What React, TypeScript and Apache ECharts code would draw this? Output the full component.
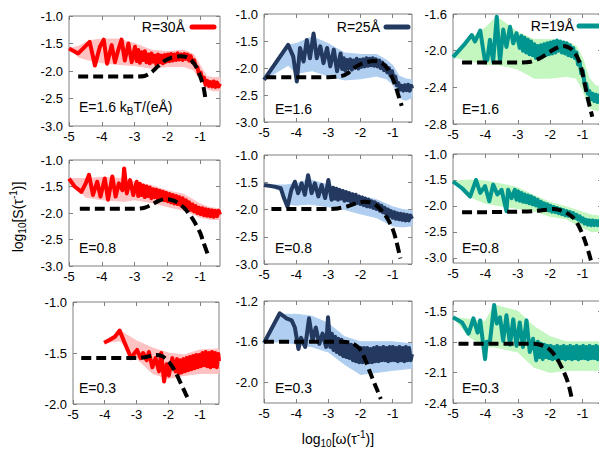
import React, { useEffect, useRef } from "react";
import * as echarts from "echarts";

// ---------- tick labels ----------
const X_TICKS = [-5, -4, -3, -2, -1];
const Y_TICKS_STD = [-3, -2.5, -2, -1.5, -1];
const Y_TICKS_C = [-2.8, -2.4, -2.0, -1.6];
const Y_TICKS_G = [-2, -1.5, -1];
const Y_TICKS_H = [-2.0, -1.6, -1.2];
const Y_TICKS_I = [-2.4, -2.1, -1.8, -1.5];

const RADII = ["R=30Å", "R=25Å", "R=19Å"];
const FIELDS = ["E=1.6", "E=0.8", "E=0.3"];

// ---------- data: R=30Å, E=1.6 ----------
const LINE_30_16 = [[-5,-1.59],[-4.72,-1.68],[-4.52,-1.56],[-4.37,-1.47],[-4.21,-1.9],[-4.06,-1.56],[-3.94,-1.43],[-3.84,-1.87],[-3.7,-1.53],[-3.6,-1.84],[-3.5,-1.62],[-3.4,-1.43],[-3.3,-1.81],[-3.19,-1.5],[-3.09,-1.84],[-2.99,-1.56],
[-2.94,-1.82],[-2.89,-1.62],[-2.84,-1.85],[-2.79,-1.66],[-2.74,-1.8],[-2.69,-1.64],[-2.64,-1.84],[-2.59,-1.7],[-2.54,-1.86],[-2.49,-1.68],[-2.44,-1.83],[-2.39,-1.72],[-2.34,-1.88],[-2.29,-1.7],[-2.24,-1.84],[-2.19,-1.72],[-2.14,-1.86],[-2.09,-1.71],[-2.04,-1.83],[-1.99,-1.7],[-1.94,-1.82],[-1.89,-1.69],[-1.84,-1.81],[-1.79,-1.7],[-1.74,-1.8],[-1.69,-1.68],[-1.64,-1.79],[-1.59,-1.7],[-1.54,-1.8],[-1.49,-1.69],[-1.44,-1.78],[-1.39,-1.7],[-1.34,-1.81],[-1.29,-1.73],[-1.24,-1.84],[-1.19,-1.8],[-1.14,-1.92],[-1.09,-1.93],[-1.04,-2.06],[-0.99,-2.03],[-0.94,-2.16],[-0.89,-2.12],[-0.84,-2.25],[-0.79,-2.18],[-0.74,-2.27],[-0.69,-2.2],[-0.64,-2.28],[-0.59,-2.19],[-0.54,-2.29],[-0.49,-2.21],[-0.44,-2.28],[-0.4,-2.23]];
const BAND_30_16 = [[-5,-1.59,-1.59],[-4.7,-1.75,-1.55],[-4.4,-1.8,-1.45],[-4.0,-1.85,-1.42],[-3.5,-1.88,-1.42],[-3.0,-1.9,-1.5],[-2.5,-1.95,-1.62],[-2.0,-1.92,-1.65],[-1.5,-1.92,-1.62],[-1.2,-1.98,-1.7],[-1.0,-2.15,-1.9],[-0.8,-2.32,-2.1],[-0.6,-2.36,-2.12],[-0.4,-2.36,-2.12]];
const DASH_30_16 = [[-4.72,-2.1],[-4.0,-2.1],[-3.0,-2.1],[-2.7,-2.09],[-2.5,-2.03],[-2.3,-1.92],[-2.1,-1.82],[-1.9,-1.76],[-1.6,-1.73],[-1.4,-1.75],[-1.25,-1.82],[-1.1,-1.95],[-1.0,-2.1],[-0.9,-2.3],[-0.84,-2.52]];

// ---------- data: R=25Å, E=1.6 ----------
const LINE_25_16 = [[-5,-2.22],[-4.25,-1.57],[-4.09,-1.79],[-3.98,-2.25],[-3.88,-1.63],[-3.77,-1.88],[-3.67,-1.48],[-3.57,-1.82],[-3.46,-1.36],[-3.36,-1.82],[-3.25,-1.6],[-3.15,-1.91],[-3.04,-1.63],[-2.94,-1.97],[-2.83,-1.66],[-2.73,-2.06],[-2.62,-1.73],
[-2.57,-2.02],[-2.52,-1.82],[-2.47,-2.05],[-2.42,-1.85],[-2.37,-2.0],[-2.32,-1.84],[-2.27,-2.03],[-2.22,-1.86],[-2.17,-1.99],[-2.12,-1.83],[-2.07,-2.01],[-2.02,-1.85],[-1.97,-1.98],[-1.92,-1.84],[-1.87,-1.97],[-1.82,-1.82],[-1.77,-1.96],[-1.72,-1.83],[-1.67,-1.95],[-1.62,-1.82],[-1.57,-1.96],[-1.52,-1.84],[-1.47,-1.97],[-1.42,-1.86],[-1.37,-2.0],[-1.32,-1.9],[-1.27,-2.04],[-1.22,-1.95],[-1.17,-2.08],[-1.12,-2.0],[-1.07,-2.14],[-1.02,-2.06],[-0.97,-2.2],[-0.92,-2.16],[-0.87,-2.32],[-0.82,-2.28],[-0.77,-2.4],[-0.72,-2.33],[-0.67,-2.42],[-0.62,-2.32],[-0.57,-2.41],[-0.52,-2.31],[-0.47,-2.42],[-0.42,-2.33],[-0.4,-2.38]];
const BAND_25_16 = [[-5,-2.22,-2.22],[-4.25,-1.95,-1.57],[-4.0,-2.1,-1.55],[-3.5,-2.05,-1.42],[-3.0,-2.15,-1.55],[-2.5,-2.22,-1.72],[-2.0,-2.2,-1.75],[-1.5,-2.15,-1.75],[-1.2,-2.2,-1.85],[-1.0,-2.3,-1.95],[-0.8,-2.55,-2.15],[-0.6,-2.6,-2.2],[-0.4,-2.55,-2.22]];
const DASH_25_16 = [[-4.93,-2.17],[-4.0,-2.17],[-3.0,-2.17],[-2.6,-2.15],[-2.4,-2.1],[-2.2,-2.0],[-2.0,-1.93],[-1.8,-1.89],[-1.6,-1.87],[-1.4,-1.89],[-1.25,-1.95],[-1.1,-2.07],[-1.0,-2.2],[-0.9,-2.36],[-0.8,-2.55],[-0.72,-2.7]];

// ---------- data: R=19Å, E=1.6 ----------
const LINE_19_16 = [[-5,-2.07],[-4.62,-1.92],[-4.42,-1.83],[-4.32,-1.9],[-4.16,-1.78],[-4.01,-2.12],[-3.94,-2.1],[-3.86,-1.88],[-3.76,-2.12],[-3.65,-1.63],[-3.55,-2.12],[-3.45,-1.77],[-3.35,-1.96],[-3.24,-1.74],[-3.14,-1.92],[-3.04,-1.81],[-2.94,-1.97],
[-2.89,-1.84],[-2.84,-2.0],[-2.79,-1.86],[-2.74,-2.02],[-2.69,-1.88],[-2.64,-2.04],[-2.59,-1.9],[-2.54,-2.05],[-2.49,-1.93],[-2.44,-2.08],[-2.39,-1.95],[-2.34,-2.07],[-2.29,-1.94],[-2.24,-2.06],[-2.19,-1.93],[-2.14,-2.05],[-2.09,-1.92],[-2.04,-2.04],[-1.99,-1.91],[-1.94,-2.03],[-1.89,-1.9],[-1.84,-2.02],[-1.79,-1.89],[-1.74,-2.0],[-1.69,-1.9],[-1.64,-2.02],[-1.59,-1.91],[-1.54,-2.03],[-1.49,-1.92],[-1.44,-2.05],[-1.39,-1.94],[-1.34,-2.06],[-1.29,-1.97],[-1.24,-2.08],[-1.19,-2.02],[-1.14,-2.15],[-1.09,-2.12],[-1.04,-2.25],[-0.99,-2.22],[-0.94,-2.36],[-0.89,-2.36],[-0.84,-2.47],[-0.79,-2.44],[-0.74,-2.53],[-0.69,-2.47],[-0.64,-2.55],[-0.59,-2.48],[-0.54,-2.56],[-0.49,-2.49],[-0.44,-2.55],[-0.4,-2.51]];
const BAND_19_16 = [[-5,-2.07,-2.07],[-4.6,-2.1,-1.9],[-4.0,-2.15,-1.75],[-3.65,-2.15,-1.63],[-3.0,-2.2,-1.8],[-2.5,-2.3,-1.88],[-2.0,-2.3,-1.88],[-1.5,-2.28,-1.9],[-1.2,-2.3,-1.95],[-1.0,-2.42,-2.08],[-0.8,-2.62,-2.3],[-0.6,-2.65,-2.38],[-0.4,-2.65,-2.4]];
const DASH_19_16 = [[-4.72,-2.13],[-4.0,-2.13],[-3.0,-2.13],[-2.6,-2.12],[-2.3,-2.08],[-2.0,-2.01],[-1.8,-1.97],[-1.6,-1.95],[-1.4,-1.97],[-1.25,-2.02],[-1.1,-2.12],[-1.0,-2.25],[-0.9,-2.42],[-0.8,-2.58],[-0.7,-2.72]];

// ---------- data: R=30Å, E=0.8 ----------
const LINE_30_08 = [[-5,-1.35],[-4.83,-1.5],[-4.62,-1.6],[-4.49,-1.44],[-4.39,-1.28],[-4.27,-1.66],[-4.14,-1.41],[-4.04,-1.69],[-3.91,-1.35],[-3.81,-1.75],[-3.68,-1.31],[-3.58,-1.69],[-3.48,-1.44],[-3.37,-1.57],[-3.32,-1.16],[-3.24,-1.63],[-3.14,-1.38],[-3.04,-1.66],[-2.94,-1.41],
[-2.89,-1.68],[-2.84,-1.45],[-2.79,-1.66],[-2.74,-1.48],[-2.69,-1.7],[-2.64,-1.5],[-2.59,-1.68],[-2.54,-1.52],[-2.49,-1.72],[-2.44,-1.55],[-2.39,-1.7],[-2.34,-1.56],[-2.29,-1.74],[-2.24,-1.58],[-2.19,-1.72],[-2.14,-1.6],[-2.09,-1.76],[-2.04,-1.62],[-1.99,-1.78],[-1.94,-1.64],[-1.89,-1.8],[-1.84,-1.66],[-1.79,-1.82],[-1.74,-1.68],[-1.69,-1.83],[-1.64,-1.7],[-1.59,-1.85],[-1.54,-1.72],[-1.49,-1.87],[-1.44,-1.76],[-1.39,-1.9],[-1.34,-1.8],[-1.29,-1.94],[-1.24,-1.84],[-1.19,-1.97],[-1.14,-1.87],[-1.09,-2.0],[-1.04,-1.9],[-0.99,-2.02],[-0.94,-1.91],[-0.89,-2.04],[-0.84,-1.93],[-0.79,-2.05],[-0.74,-1.94],[-0.69,-2.06],[-0.64,-1.95],[-0.59,-2.07],[-0.54,-1.96],[-0.49,-2.06],[-0.44,-1.96],[-0.4,-2.03]];
const BAND_30_08 = [[-5,-1.35,-1.35],[-4.5,-1.7,-1.35],[-4.0,-1.75,-1.33],[-3.3,-1.78,-1.35],[-3.0,-1.75,-1.42],[-2.5,-1.8,-1.48],[-2.0,-1.88,-1.58],[-1.5,-1.95,-1.65],[-1.0,-2.08,-1.83],[-0.7,-2.12,-1.9],[-0.4,-2.12,-1.92]];
const DASH_30_08 = [[-4.67,-1.92],[-4.0,-1.92],[-3.0,-1.92],[-2.7,-1.9],[-2.5,-1.85],[-2.3,-1.78],[-2.1,-1.74],[-1.9,-1.75],[-1.7,-1.8],[-1.5,-1.9],[-1.3,-2.05],[-1.15,-2.2],[-1.0,-2.38],[-0.9,-2.56],[-0.75,-2.82]];

// ---------- data: R=25Å, E=0.8 ----------
const LINE_25_08 = [[-5,-1.55],[-4.67,-1.58],[-4.48,-1.61],[-4.38,-1.79],[-4.27,-1.95],[-4.15,-1.64],[-4.04,-1.49],[-3.94,-1.7],[-3.83,-1.52],[-3.73,-1.73],[-3.63,-1.37],[-3.52,-1.7],[-3.42,-1.52],[-3.31,-1.76],[-3.21,-1.55],[-3.1,-1.79],[-3.0,-1.46],[-2.9,-1.82],
[-2.85,-1.6],[-2.8,-1.8],[-2.75,-1.62],[-2.7,-1.82],[-2.65,-1.64],[-2.6,-1.8],[-2.55,-1.66],[-2.5,-1.84],[-2.45,-1.68],[-2.4,-1.83],[-2.35,-1.7],[-2.3,-1.86],[-2.25,-1.72],[-2.2,-1.87],[-2.15,-1.73],[-2.1,-1.88],[-2.05,-1.76],[-2.0,-1.9],[-1.95,-1.78],[-1.9,-1.92],[-1.85,-1.8],[-1.8,-1.94],[-1.75,-1.82],[-1.7,-1.95],[-1.65,-1.85],[-1.6,-1.97],[-1.55,-1.87],[-1.5,-1.99],[-1.45,-1.9],[-1.4,-2.02],[-1.35,-1.93],[-1.3,-2.05],[-1.25,-1.97],[-1.2,-2.08],[-1.15,-2.0],[-1.1,-2.12],[-1.05,-2.03],[-1.0,-2.15],[-0.95,-2.05],[-0.9,-2.17],[-0.85,-2.07],[-0.8,-2.18],[-0.75,-2.08],[-0.7,-2.19],[-0.65,-2.09],[-0.6,-2.2],[-0.55,-2.1],[-0.5,-2.2],[-0.45,-2.11],[-0.4,-2.17]];
const BAND_25_08 = [[-5,-1.55,-1.55],[-4.5,-1.65,-1.55],[-4.3,-1.9,-1.55],[-4.0,-1.92,-1.52],[-3.6,-1.9,-1.45],[-3.0,-1.95,-1.55],[-2.5,-2.0,-1.65],[-2.0,-2.08,-1.75],[-1.5,-2.15,-1.82],[-1.0,-2.3,-1.95],[-0.7,-2.32,-2.0],[-0.4,-2.3,-2.02]];
const DASH_25_08 = [[-4.77,-1.99],[-4.0,-1.99],[-3.0,-1.99],[-2.7,-1.98],[-2.4,-1.94],[-2.1,-1.88],[-1.9,-1.86],[-1.7,-1.87],[-1.5,-1.93],[-1.3,-2.05],[-1.15,-2.18],[-1.0,-2.36],[-0.9,-2.55],[-0.76,-2.9]];

// ---------- data: R=19Å, E=0.8 ----------
const LINE_19_08 = [[-5,-1.53],[-4.72,-1.66],[-4.47,-1.82],[-4.29,-1.5],[-4.16,-1.75],[-4.01,-1.62],[-3.88,-1.91],[-3.76,-1.59],[-3.63,-1.78],[-3.5,-1.69],[-3.35,-2.1],[-3.3,-1.69],[-3.19,-1.85],[-3.09,-1.69],
[-3.04,-1.88],[-2.99,-1.72],[-2.94,-1.9],[-2.89,-1.75],[-2.84,-1.92],[-2.79,-1.78],[-2.74,-1.93],[-2.69,-1.8],[-2.64,-1.95],[-2.59,-1.82],[-2.54,-1.97],[-2.49,-1.85],[-2.44,-1.99],[-2.39,-1.88],[-2.34,-2.02],[-2.29,-1.92],[-2.24,-2.05],[-2.19,-1.95],[-2.14,-2.07],[-2.09,-1.97],[-2.04,-2.09],[-1.99,-2.0],[-1.94,-2.11],[-1.89,-2.02],[-1.84,-2.12],[-1.79,-2.04],[-1.74,-2.14],[-1.69,-2.06],[-1.64,-2.16],[-1.59,-2.08],[-1.54,-2.18],[-1.49,-2.1],[-1.44,-2.19],[-1.39,-2.12],[-1.34,-2.21],[-1.29,-2.14],[-1.24,-2.23],[-1.19,-2.17],[-1.14,-2.26],[-1.09,-2.2],[-1.04,-2.3],[-0.99,-2.24],[-0.94,-2.34],[-0.89,-2.27],[-0.84,-2.36],[-0.79,-2.28],[-0.74,-2.37],[-0.69,-2.28],[-0.64,-2.37],[-0.59,-2.29],[-0.54,-2.37],[-0.49,-2.29],[-0.44,-2.36],[-0.4,-2.31]];
const BAND_19_08 = [[-5,-1.53,-1.53],[-4.5,-1.82,-1.5],[-4.0,-1.95,-1.52],[-3.5,-2.0,-1.58],[-3.0,-2.05,-1.65],[-2.5,-2.1,-1.8],[-2.0,-2.2,-1.93],[-1.5,-2.25,-2.02],[-1.0,-2.42,-2.12],[-0.7,-2.5,-2.18],[-0.4,-2.48,-2.2]];
const DASH_19_08 = [[-4.72,-2.12],[-4.0,-2.12],[-3.0,-2.11],[-2.5,-2.1],[-2.2,-2.08],[-1.9,-2.06],[-1.7,-2.08],[-1.5,-2.13],[-1.3,-2.22],[-1.15,-2.35],[-1.0,-2.55],[-0.9,-2.72],[-0.8,-2.92],[-0.7,-3.15]];

// ---------- data: R=30Å, E=0.3 ----------
const LINE_30_03 = [[-4.02,-1.4],[-3.84,-1.37],[-3.68,-1.34],[-3.53,-1.28],[-3.4,-1.38],[-3.29,-1.46],[-3.17,-1.55],[-3.08,-1.51],[-2.98,-1.47],[-2.87,-1.55],[-2.79,-1.5],[-2.68,-1.57],[-2.61,-1.49],[-2.5,-1.64],[-2.4,-1.55],[-2.29,-1.68],[-2.22,-1.5],[-2.13,-1.78],[-2.05,-1.61],[-1.98,-1.72],[-1.87,-1.55],[-1.77,-1.68],
[-1.72,-1.56],[-1.67,-1.7],[-1.62,-1.57],[-1.57,-1.69],[-1.52,-1.56],[-1.47,-1.68],[-1.42,-1.55],[-1.37,-1.67],[-1.32,-1.54],[-1.27,-1.66],[-1.22,-1.53],[-1.17,-1.65],[-1.12,-1.52],[-1.07,-1.64],[-1.02,-1.52],[-0.97,-1.63],[-0.92,-1.5],[-0.87,-1.62],[-0.82,-1.49],[-0.77,-1.63],[-0.72,-1.5],[-0.67,-1.64],[-0.62,-1.49],[-0.57,-1.63],[-0.52,-1.5],[-0.47,-1.64],[-0.42,-1.51],[-0.4,-1.58]];
const BAND_30_03 = [[-4.0,-1.4,-1.4],[-3.53,-1.38,-1.28],[-3.0,-1.55,-1.38],[-2.5,-1.7,-1.45],[-2.0,-1.75,-1.5],[-1.5,-1.72,-1.52],[-1.0,-1.7,-1.47],[-0.4,-1.7,-1.46]];
const DASH_30_03 = [[-4.74,-1.55],[-4.0,-1.55],[-3.0,-1.55],[-2.7,-1.54],[-2.4,-1.52],[-2.2,-1.53],[-2.0,-1.58],[-1.8,-1.67],[-1.6,-1.8],[-1.45,-1.9],[-1.34,-1.97]];

// ---------- data: R=25Å, E=0.3 ----------
const LINE_25_03 = [[-5,-1.61],[-4.51,-1.32],[-4.3,-1.37],[-4.14,-1.39],[-4.04,-1.46],[-3.93,-1.67],[-3.85,-1.56],[-3.72,-1.65],[-3.6,-1.37],[-3.49,-1.59],[-3.39,-1.46],[-3.28,-1.62],[-3.18,-1.52],[-3.07,-1.65],[-3.01,-1.36],[-2.94,-1.65],
[-2.89,-1.52],[-2.84,-1.68],[-2.79,-1.55],[-2.74,-1.7],[-2.69,-1.57],[-2.64,-1.72],[-2.59,-1.58],[-2.54,-1.74],[-2.49,-1.6],[-2.44,-1.75],[-2.39,-1.62],[-2.34,-1.76],[-2.29,-1.63],[-2.24,-1.78],[-2.19,-1.64],[-2.14,-1.79],[-2.09,-1.65],[-2.04,-1.8],[-1.99,-1.66],[-1.94,-1.8],[-1.89,-1.66],[-1.84,-1.79],[-1.79,-1.66],[-1.74,-1.8],[-1.69,-1.67],[-1.64,-1.8],[-1.59,-1.66],[-1.54,-1.79],[-1.49,-1.65],[-1.44,-1.79],[-1.39,-1.66],[-1.34,-1.78],[-1.29,-1.65],[-1.24,-1.78],[-1.19,-1.66],[-1.14,-1.79],[-1.09,-1.65],[-1.04,-1.78],[-0.99,-1.65],[-0.94,-1.78],[-0.89,-1.66],[-0.84,-1.79],[-0.79,-1.65],[-0.74,-1.78],[-0.69,-1.66],[-0.64,-1.79],[-0.59,-1.65],[-0.54,-1.78],[-0.49,-1.66],[-0.44,-1.78],[-0.4,-1.72]];
const BAND_25_03 = [[-5,-1.61,-1.61],[-4.51,-1.6,-1.33],[-4.0,-1.62,-1.33],[-3.5,-1.65,-1.35],[-3.0,-1.7,-1.42],[-2.5,-1.82,-1.55],[-2.0,-1.92,-1.6],[-1.5,-1.9,-1.6],[-1.0,-1.88,-1.6],[-0.4,-1.86,-1.62]];
const DASH_25_03 = [[-5,-1.6],[-4.0,-1.6],[-3.0,-1.6],[-2.6,-1.6],[-2.3,-1.61],[-2.05,-1.66],[-1.9,-1.74],[-1.73,-1.88],[-1.55,-2.02],[-1.37,-2.16]];

// ---------- data: R=19Å, E=0.3 ----------
const LINE_19_03 = [[-5,-1.56],[-4.72,-1.61],[-4.52,-1.72],[-4.37,-1.57],[-4.24,-1.71],[-4.16,-1.59],[-4.01,-1.97],[-3.96,-1.8],[-3.86,-1.8],[-3.73,-1.44],[-3.65,-1.62],[-3.55,-1.56],[-3.45,-1.79],[-3.35,-1.54],[-3.24,-1.83],[-3.14,-1.58],[-3.04,-1.84],[-2.94,-1.61],[-2.84,-1.85],[-2.73,-1.59],[-2.63,-1.9],[-2.53,-1.77],[-2.43,-1.98],
[-2.38,-1.8],[-2.33,-1.95],[-2.28,-1.82],[-2.23,-1.97],[-2.18,-1.83],[-2.13,-1.95],[-2.08,-1.84],[-2.03,-1.96],[-1.98,-1.84],[-1.93,-1.97],[-1.88,-1.85],[-1.83,-1.96],[-1.78,-1.84],[-1.73,-1.97],[-1.68,-1.85],[-1.63,-1.96],[-1.58,-1.84],[-1.53,-1.97],[-1.48,-1.85],[-1.43,-1.96],[-1.38,-1.84],[-1.33,-1.97],[-1.28,-1.85],[-1.23,-1.96],[-1.18,-1.84],[-1.13,-1.97],[-1.08,-1.85],[-1.03,-1.96],[-0.98,-1.84],[-0.93,-1.96],[-0.88,-1.85],[-0.83,-1.97],[-0.78,-1.84],[-0.73,-1.96],[-0.68,-1.85],[-0.63,-1.96],[-0.58,-1.84],[-0.53,-1.97],[-0.48,-1.85],[-0.43,-1.95],[-0.4,-1.9]];
const BAND_19_03 = [[-5,-1.56,-1.56],[-4.5,-1.75,-1.58],[-4.0,-1.85,-1.6],[-3.73,-1.85,-1.44],[-3.0,-1.9,-1.5],[-2.5,-2.05,-1.65],[-2.0,-2.1,-1.75],[-1.5,-2.08,-1.8],[-1.0,-2.08,-1.8],[-0.4,-2.08,-1.8]];
const DASH_19_03 = [[-4.83,-1.82],[-4.0,-1.82],[-3.0,-1.82],[-2.5,-1.82],[-2.2,-1.84],[-2.0,-1.88],[-1.8,-1.96],[-1.6,-2.08],[-1.45,-2.2],[-1.33,-2.36]];

// ---------- styling ----------
const LINE_COLORS = ["#ff0000", "#23395f", "#00968f"];
const BAND_COLORS = ["#ffc2c2", "#b0cff0", "#c4f6c0"];
const FONT = "'Liberation Sans', Arial, Helvetica, sans-serif";
const FRAME = "#808080";

const PANELS = [
  { col: 0, row: 0, line: LINE_30_16, band: BAND_30_16, dash: DASH_30_16, yMin: -3, yMax: -1, yTicks: Y_TICKS_STD, box: { left: 69, top: 16, width: 151, height: 110 } },
  { col: 1, row: 0, line: LINE_25_16, band: BAND_25_16, dash: DASH_25_16, yMin: -3, yMax: -1, yTicks: Y_TICKS_STD, box: { left: 264, top: 14, width: 148, height: 108 } },
  { col: 2, row: 0, line: LINE_19_16, band: BAND_19_16, dash: DASH_19_16, yMin: -2.8, yMax: -1.6, yTicks: Y_TICKS_C, box: { left: 453, top: 14, width: 149, height: 110 } },
  { col: 0, row: 1, line: LINE_30_08, band: BAND_30_08, dash: DASH_30_08, yMin: -3, yMax: -1, yTicks: Y_TICKS_STD, box: { left: 69, top: 160, width: 151, height: 106 } },
  { col: 1, row: 1, line: LINE_25_08, band: BAND_25_08, dash: DASH_25_08, yMin: -3, yMax: -1, yTicks: Y_TICKS_STD, box: { left: 264, top: 155, width: 148, height: 109 } },
  { col: 2, row: 1, line: LINE_19_08, band: BAND_19_08, dash: DASH_19_08, yMin: -3.1, yMax: -1, yTicks: Y_TICKS_STD, box: { left: 453, top: 154, width: 149, height: 109 } },
  { col: 0, row: 2, line: LINE_30_03, band: BAND_30_03, dash: DASH_30_03, yMin: -2, yMax: -1, yTicks: Y_TICKS_G, box: { left: 73, top: 302, width: 146, height: 102 } },
  { col: 1, row: 2, line: LINE_25_03, band: BAND_25_03, dash: DASH_25_03, yMin: -2.2, yMax: -1.2, yTicks: Y_TICKS_H, box: { left: 264, top: 301, width: 148, height: 102 } },
  { col: 2, row: 2, line: LINE_19_03, band: BAND_19_03, dash: DASH_19_03, yMin: -2.4, yMax: -1.4, yTicks: Y_TICKS_I, box: { left: 453, top: 301, width: 149, height: 102 } },
];

const E_POS = [
  [79, 107], [275, 109], [462, 109],
  [79, 248], [275, 248], [462, 248],
  [79, 388], [275, 388], [462, 388],
];
const LEGEND_POS = [
  { tx: 185, y: 27, x1: 192, x2: 214 },
  { tx: 380, y: 27, x1: 386, x2: 408 },
  { tx: 574, y: 26, x1: 579, x2: 602 },
];

let ctx: CanvasRenderingContext2D | null = null;
function measure(text: string, size: number) {
  if (!ctx) ctx = document.createElement("canvas").getContext("2d");
  if (!ctx) return text.length * size * 0.55;
  ctx.font = `${size}px ${FONT}`;
  return ctx.measureText(text).width;
}

type Piece = { t: string; s: number; dy?: number };
function seqTexts(pieces: Piece[], x0: number, y: number, center: boolean) {
  const widths = pieces.map((p) => measure(p.t, p.s));
  const total = widths.reduce((a, b) => a + b, 0);
  let x = center ? x0 - total / 2 : x0;
  return pieces.map((p, i) => {
    const el = {
      type: "text",
      x,
      y: y + (p.dy || 0),
      silent: true,
      style: { text: p.t, fontSize: p.s, fontFamily: FONT, fill: "#000", align: "left", verticalAlign: "middle" },
    };
    x += widths[i];
    return el;
  });
}

function buildOption() {
  const grid: any[] = [];
  const xAxis: any[] = [];
  const yAxis: any[] = [];
  const series: any[] = [];
  const tickStyle = { inside: true, length: 4, lineStyle: { color: FRAME, width: 1 } };

  PANELS.forEach((p, i) => {
    grid.push({ ...p.box, show: true, borderColor: FRAME, borderWidth: 1, backgroundColor: "transparent", containLabel: false, outerBoundsMode: "none" });
    xAxis.push({
      gridIndex: i, type: "value", min: -5, max: -0.4, position: "bottom",
      axisLine: { show: false }, splitLine: { show: false },
      axisTick: { ...tickStyle, customValues: X_TICKS },
      axisLabel: { customValues: X_TICKS, color: "#000", fontSize: 13, fontFamily: FONT, margin: 4, formatter: (v: number) => String(Math.round(v)) },
    });
    xAxis.push({
      gridIndex: i, type: "value", min: -5, max: -0.4, position: "top",
      axisLine: { show: false }, splitLine: { show: false },
      axisTick: { ...tickStyle, customValues: X_TICKS }, axisLabel: { show: false },
    });
    yAxis.push({
      gridIndex: i, type: "value", min: p.yMin, max: p.yMax, position: "left",
      axisLine: { show: false }, splitLine: { show: false },
      axisTick: { ...tickStyle, customValues: p.yTicks },
      axisLabel: { customValues: p.yTicks, color: "#000", fontSize: 13, fontFamily: FONT, margin: 6, formatter: (v: number) => v.toFixed(1) },
    });
    yAxis.push({
      gridIndex: i, type: "value", min: p.yMin, max: p.yMax, position: "right",
      axisLine: { show: false }, splitLine: { show: false },
      axisTick: { ...tickStyle, customValues: p.yTicks }, axisLabel: { show: false },
    });
    const xi = 2 * i, yi = 2 * i;
    const band = p.band;
    const fill = BAND_COLORS[p.col];
    series.push({
      type: "custom", xAxisIndex: xi, yAxisIndex: yi, data: band, z: 1, silent: true,
      encode: { x: 0, y: [1, 2] },
      renderItem: (params: any, api: any) => {
        if (params.dataIndex !== 0) return null;
        const upper = band.map((d) => api.coord([d[0], d[2]]));
        const lower = band.map((d) => api.coord([d[0], d[1]])).reverse();
        return { type: "polygon", shape: { points: upper.concat(lower) }, style: { fill, stroke: fill, lineWidth: 1 } };
      },
    });
    series.push({
      type: "line", xAxisIndex: xi, yAxisIndex: yi, data: p.line, z: 2, symbol: "none", silent: true,
      lineStyle: { color: LINE_COLORS[p.col], width: 4, join: "round" }, clip: true,
    });
    series.push({
      type: "line", xAxisIndex: xi, yAxisIndex: yi, data: p.dash, z: 3, symbol: "none", smooth: 0.3, silent: true,
      lineStyle: { color: "#000", width: 4, type: [10, 5], cap: "butt" }, clip: true,
    });
  });

  const graphic: any[] = [];
  // legends (top row)
  LEGEND_POS.forEach((l, c) => {
    graphic.push({ type: "text", x: l.tx, y: l.y, silent: true, style: { text: RADII[c], fontSize: 14, fontFamily: FONT, fill: "#000", align: "right", verticalAlign: "middle" } });
    graphic.push({ type: "line", silent: true, shape: { x1: l.x1, y1: l.y, x2: l.x2, y2: l.y }, style: { stroke: LINE_COLORS[c], lineWidth: 5, lineCap: "round" } });
  });
  // field labels
  PANELS.forEach((p, i) => {
    const [ex, ey] = E_POS[i];
    if (i === 0) {
      graphic.push(...seqTexts([{ t: FIELDS[0] + " k", s: 14 }, { t: "B", s: 10, dy: 4 }, { t: "T/(eÅ)", s: 14 }], ex, ey, false));
    } else {
      graphic.push({ type: "text", x: ex, y: ey, silent: true, style: { text: FIELDS[p.row], fontSize: 14, fontFamily: FONT, fill: "#000", align: "left", verticalAlign: "middle" } });
    }
  });
  // x axis title
  graphic.push(...seqTexts([{ t: "log", s: 14 }, { t: "10", s: 10, dy: 4 }, { t: "[ω(τ", s: 14 }, { t: "-1", s: 10, dy: -5 }, { t: ")]", s: 14 }], 338, 439, true));
  // y axis title (rotated)
  graphic.push({
    type: "group", x: 18, y: 217, rotation: Math.PI / 2, silent: true,
    children: seqTexts([{ t: "log", s: 14 }, { t: "10", s: 10, dy: 4 }, { t: "[S(τ", s: 14 }, { t: "-1", s: 10, dy: -5 }, { t: ")]", s: 14 }], 0, 0, true),
  });

  return { animation: false, backgroundColor: "#ffffff", grid, xAxis, yAxis, series, graphic };
}

export default function App() {
  const ref = useRef<HTMLDivElement>(null);
  useEffect(() => {
    if (!ref.current) return;
    const chart = echarts.init(ref.current, undefined, { renderer: "svg" });
    chart.setOption(buildOption() as any);
    return () => chart.dispose();
  }, []);
  return <div ref={ref} style={{ position: "absolute", left: 0, top: 0, width: 599, height: 450, overflow: "hidden" }} />;
}
